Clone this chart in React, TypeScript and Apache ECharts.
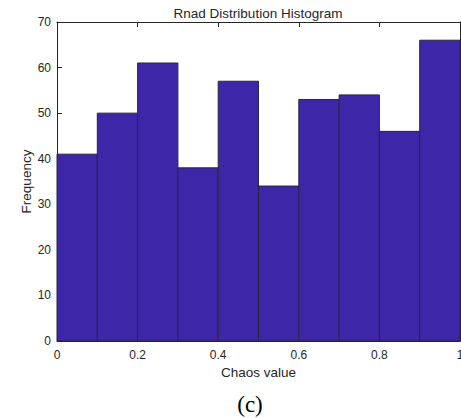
import React, { useEffect, useRef } from "react";
import * as echarts from "echarts";

const binStarts = [0, 0.1, 0.2, 0.3, 0.4, 0.5, 0.6, 0.7, 0.8, 0.9];
const binWidth = 0.1;
const counts = [41, 50, 61, 38, 57, 34, 53, 54, 46, 66];
const titleText = "Rnad Distribution Histogram";
const xName = "Chaos value";
const yName = "Frequency";
const caption = "(c)";

const AXIS_COLOR = "#262626";
const BAR_COLOR = "#3E26A8";
const FONT = "Liberation Sans, Arial, sans-serif";

export default function App() {
  const ref = useRef<HTMLDivElement>(null);
  useEffect(() => {
    if (!ref.current) return;
    const chart = echarts.init(ref.current, undefined, { renderer: "svg" });
    const data = binStarts.map((s, i) => [s, s + binWidth, counts[i]]);
    const mkAxis = () => ({
      type: "value" as const,
      axisLine: { show: true, onZero: false, lineStyle: { color: AXIS_COLOR, width: 1 } },
      axisTick: { show: true, inside: true, length: 5, lineStyle: { color: AXIS_COLOR, width: 1 } },
      splitLine: { show: false },
    });
    chart.setOption({
      animation: false,
      grid: { left: 57, top: 22, width: 403, height: 319, containLabel: false },
      graphic: [
        {
          type: "text",
          x: 258,
          y: 13,
          style: {
            text: titleText,
            font: `13.5px ${FONT}`,
            fill: AXIS_COLOR,
            textAlign: "center",
            textVerticalAlign: "middle",
          },
        },
        {
          type: "text",
          x: 250,
          y: 404,
          style: {
            text: caption,
            font: `23px "Liberation Serif", "Times New Roman", serif`,
            fill: "#000",
            textAlign: "center",
            textVerticalAlign: "middle",
          },
        },
      ],
      xAxis: [
        {
          ...mkAxis(),
          min: 0,
          max: 1,
          interval: 0.2,
          position: "bottom",
          name: xName,
          nameLocation: "middle",
          nameGap: 24,
          nameMoveOverlap: false,
          nameTextStyle: { fontFamily: FONT, fontSize: 13.5, color: AXIS_COLOR },
          axisLabel: {
            fontFamily: FONT,
            fontSize: 12,
            color: AXIS_COLOR,
            margin: 8,
            showMaxLabel: true,
            formatter: (v: number) => String(Math.round(v * 10) / 10),
          },
        },
        {
          ...mkAxis(),
          min: 0,
          max: 1,
          interval: 0.2,
          position: "top",
          axisLabel: { show: false },
        },
      ],
      yAxis: [
        {
          ...mkAxis(),
          min: 0,
          max: 70,
          interval: 10,
          position: "left",
          name: yName,
          nameLocation: "middle",
          nameGap: 24,
          nameMoveOverlap: false,
          nameTextStyle: { fontFamily: FONT, fontSize: 13.5, color: AXIS_COLOR },
          axisLabel: { fontFamily: FONT, fontSize: 12, color: AXIS_COLOR, margin: 6 },
        },
        {
          ...mkAxis(),
          min: 0,
          max: 70,
          interval: 10,
          position: "right",
          axisLabel: { show: false },
        },
      ],
      series: [
        {
          type: "custom",
          xAxisIndex: 0,
          yAxisIndex: 0,
          data,
          encode: { x: [0, 1], y: 2 },
          z: 1,
          renderItem: (params: any, api: any) => {
            const p0 = api.coord([api.value(0), 0]);
            const p1 = api.coord([api.value(1), api.value(2)]);
            return {
              type: "rect",
              shape: { x: p0[0], y: p1[1], width: p1[0] - p0[0], height: p0[1] - p1[1] },
              style: { fill: BAR_COLOR, stroke: "#2a2440", lineWidth: 1 },
            };
          },
        },
      ],
    });
    return () => chart.dispose();
  }, []);
  return (
    <div
      style={{
        position: "fixed",
        left: 0,
        top: 0,
        width: 461,
        height: 418,
        overflow: "hidden",
        background: "#fff",
      }}
    >
      <div ref={ref} style={{ width: 480, height: 418 }} />
    </div>
  );
}
